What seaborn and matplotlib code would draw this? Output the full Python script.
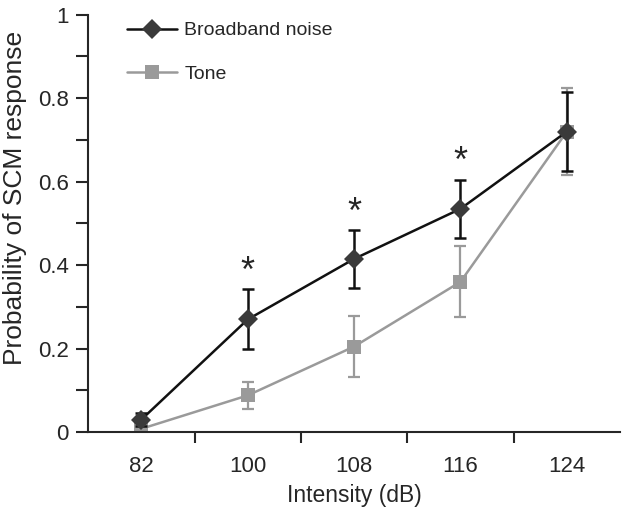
import numpy as np
import pandas as pd
import seaborn as sns
import matplotlib.pyplot as plt

intensity = ["82", "100", "108", "116", "124"]
noise_mean = [0.03, 0.27, 0.415, 0.535, 0.72]
noise_err = [0.015, 0.072, 0.07, 0.07, 0.095]
tone_mean = [0.008, 0.088, 0.205, 0.36, 0.72]
tone_err = [0.01, 0.032, 0.074, 0.085, 0.105]
star_positions = [1, 2, 3]

sns.set_style("ticks")
plt.rcParams['font.family'] = ['Liberation Sans', 'DejaVu Sans']

fig = plt.figure(figsize=(6.25, 5.09), dpi=100)
ax = fig.add_axes([0.141, 0.151, 0.851, 0.82])

x = np.arange(len(intensity))
df = pd.DataFrame({
    'x': np.concatenate([x, x]),
    'p': noise_mean + tone_mean,
    'cond': ['Broadband noise'] * len(x) + ['Tone'] * len(x),
})

# barres d'erreur d'abord (sous les marqueurs)
ax.errorbar(x, tone_mean, yerr=tone_err, fmt='none', ecolor='#9a9a9a',
            elinewidth=1.6, capsize=4, capthick=1.6, zorder=2)
ax.errorbar(x, noise_mean, yerr=noise_err, fmt='none', ecolor='#111111',
            elinewidth=1.8, capsize=4, capthick=1.8, zorder=3)

sns.lineplot(data=df[df.cond == 'Tone'], x='x', y='p', ax=ax, color='#9a9a9a',
             marker='s', markersize=10, markeredgewidth=0, linewidth=1.8,
             label='Tone', zorder=2)
sns.lineplot(data=df[df.cond == 'Broadband noise'], x='x', y='p', ax=ax,
             color='#111111', marker='D', markersize=10, markeredgewidth=0,
             markerfacecolor='#3a3a3a', linewidth=1.8,
             label='Broadband noise', zorder=4)

# astérisques au-dessus des barres
for i in star_positions:
    ax.text(i, noise_mean[i] + noise_err[i] + 0.04, '*', ha='center',
            va='center', fontsize=26)

ax.set_xlim(-0.5, 4.5)
ax.set_ylim(0, 1)
ax.set_xticks(x)
ax.set_xticklabels(intensity)
ax.set_xticks([0.5, 1.5, 2.5, 3.5], minor=True)
ax.tick_params(axis='x', which='major', length=0, pad=17, labelsize=16)
ax.tick_params(axis='x', which='minor', length=8, width=1.5, direction='out')
ax.set_yticks([0, 0.2, 0.4, 0.6, 0.8, 1])
ax.set_yticklabels(["0", "0.2", "0.4", "0.6", "0.8", "1"])
ax.set_yticks(np.arange(0.1, 1.0, 0.2), minor=True)
ax.tick_params(axis='y', which='major', length=9, width=1.5, labelsize=16, pad=5)
ax.tick_params(axis='y', which='minor', length=9, width=1.5)

for s in ['left', 'bottom']:
    ax.spines[s].set_linewidth(1.5)
sns.despine(ax=ax)

ax.set_xlabel("Intensity (dB)", fontsize=16.5, labelpad=5)
ax.set_ylabel("Probability of SCM response", fontsize=19, labelpad=8)
ax.yaxis.set_label_coords(-0.115, 0.56)

handles, labels = ax.get_legend_handles_labels()
order = [labels.index('Broadband noise'), labels.index('Tone')]
ax.legend([handles[i] for i in order], [labels[i] for i in order],
          loc='upper left', bbox_to_anchor=(0.04, 1.025), frameon=False,
          fontsize=14, handlelength=2.6, handletextpad=0.35, labelspacing=1.35)

fig.savefig("out.png", dpi=100)
